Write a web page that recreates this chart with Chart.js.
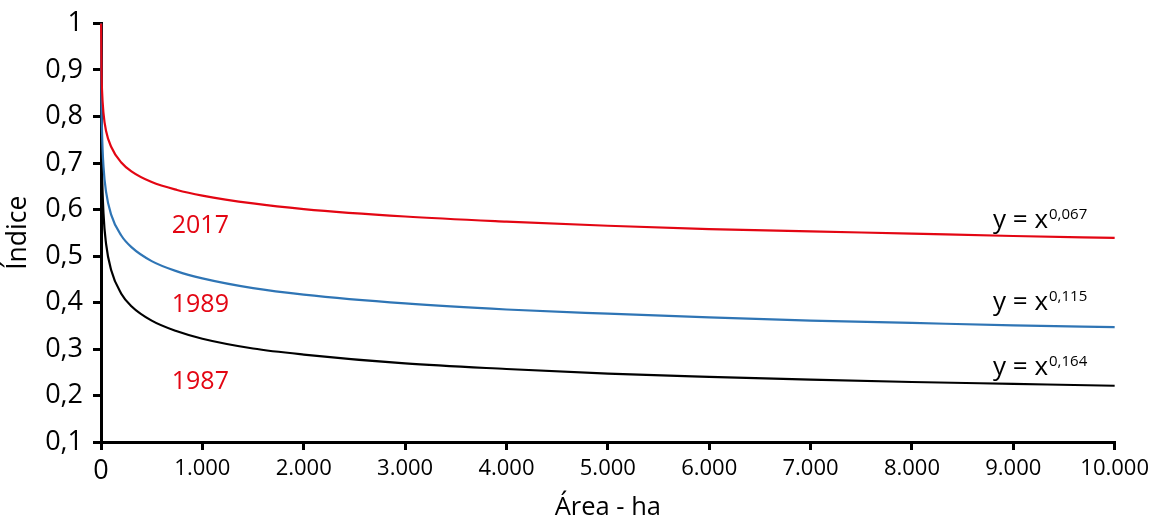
<!DOCTYPE html>
<html>
<head>
<meta charset="utf-8">
<script src="https://cdn.jsdelivr.net/npm/chart.js@4/dist/chart.umd.min.js"></script>
<style>
  body { margin: 0; background: #fff; }
  #wrap { width: 1157px; height: 520px; }
</style>
</head>
<body>
<div id="wrap"><canvas id="chart" width="1157" height="520"></canvas></div>
<script>
// área (ha) where the curves were read
const areas = [1, 5, 10, 25, 50, 100, 200, 300, 500, 750, 1000, 1500, 2000, 3000, 4000, 5000, 6000, 7000, 8000, 9000, 10000];

// índice
const idx2017 = [1, 0.898, 0.857, 0.806, 0.769, 0.735, 0.701, 0.682, 0.659, 0.642, 0.630, 0.613, 0.601, 0.585, 0.574, 0.565, 0.558, 0.553, 0.548, 0.543, 0.539];
const idx1989 = [1, 0.831, 0.767, 0.691, 0.638, 0.589, 0.544, 0.519, 0.489, 0.467, 0.452, 0.431, 0.417, 0.398, 0.385, 0.376, 0.368, 0.361, 0.356, 0.351, 0.347];
const idx1987 = [1, 0.768, 0.685, 0.590, 0.526, 0.470, 0.419, 0.392, 0.361, 0.338, 0.322, 0.301, 0.288, 0.269, 0.257, 0.247, 0.240, 0.234, 0.229, 0.225, 0.221];

const years = ['2017', '1989', '1987'];
const exponents = ['0,067', '0,115', '0,164'];
const colors = ['#e30613', '#2f75b5', '#000000'];

const FONT = "'Open Sans', sans-serif";

const toPoints = (vals) => vals.map((v, i) => ({ x: areas[i], y: v }));

// year labels and equations, anchored in data units
const labelsPlugin = {
  id: 'curveLabels',
  afterDatasetsDraw(chart) {
    const { ctx, scales: { x, y } } = chart;
    const yearPos = [[980, 0.565], [980, 0.394], [980, 0.229]];
    const eqPos = [[8800, 0.561], [8800, 0.383], [8800, 0.244]];
    ctx.save();
    ctx.font = `25px ${FONT}`;
    ctx.fillStyle = '#e30613';
    ctx.textAlign = 'center';
    ctx.textBaseline = 'middle';
    years.forEach((t, i) => {
      ctx.fillText(t, x.getPixelForValue(yearPos[i][0]), y.getPixelForValue(yearPos[i][1]));
    });

    ctx.fillStyle = '#000';
    ctx.textAlign = 'left';
    ctx.textBaseline = 'alphabetic';
    exponents.forEach((e, i) => {
      const px = x.getPixelForValue(eqPos[i][0]);
      const py = y.getPixelForValue(eqPos[i][1]);
      ctx.font = `26px ${FONT}`;
      const main = 'y = x';
      ctx.fillText(main, px, py);
      const w = ctx.measureText(main).width;
      ctx.font = `15px ${FONT}`;
      ctx.fillText(e, px + w + 1, py - 9);
    });
    ctx.restore();
  }
};

const lineSet = (label, vals, color) => ({
  label,
  data: toPoints(vals),
  borderColor: color,
  backgroundColor: color,
  borderWidth: 2.2,
  pointRadius: 0,
  showLine: true,
  cubicInterpolationMode: 'monotone',
  clip: false
});

new Chart(document.getElementById('chart'), {
  type: 'scatter',
  data: {
    datasets: [
      lineSet('2017', idx2017, colors[0]),
      lineSet('1989', idx1989, colors[1]),
      lineSet('1987', idx1987, colors[2])
    ]
  },
  options: {
    responsive: false,
    animation: false,
    layout: { padding: { top: 22, right: 42, left: 0, bottom: 0 } },
    plugins: {
      legend: { display: false },
      tooltip: { enabled: false }
    },
    scales: {
      x: {
        type: 'linear',
        min: 0,
        max: 10000,
        afterFit: (s) => { s.height = 78; },
        border: { color: '#000', width: 3 },
        grid: { drawOnChartArea: false, color: '#000', lineWidth: 3, tickLength: 8 },
        ticks: {
          stepSize: 1000,
          color: '#000',
          padding: 8,
          maxRotation: 0,
          font: (c) => ({ family: FONT, size: c.tick && c.tick.value === 0 ? 27 : 22, lineHeight: 1 }),
          callback: (v) => v === 0 ? '0' : v.toLocaleString('de-DE')
        },
        title: {
          display: true,
          text: 'Área - ha',
          color: '#000',
          font: { family: FONT, size: 25.5, lineHeight: 1 },
          padding: { top: 0, bottom: 0 }
        }
      },
      y: {
        min: 0.1,
        max: 1,
        afterFit: (s) => { s.width = 101; },
        border: { color: '#000', width: 3 },
        grid: { drawOnChartArea: false, color: '#000', lineWidth: 3, tickLength: 8 },
        ticks: {
          stepSize: 0.1,
          color: '#000',
          padding: 10,
          font: { family: FONT, size: 27, lineHeight: 1 },
          callback: (v) => String(Math.round(v * 10) / 10).replace('.', ',')
        },
        title: {
          display: true,
          text: 'Índice',
          color: '#000',
          font: { family: FONT, size: 26.5, lineHeight: 1 },
          padding: { top: 5, bottom: 0 }
        }
      }
    }
  },
  plugins: [labelsPlugin]
});
</script>
</body>
</html>
